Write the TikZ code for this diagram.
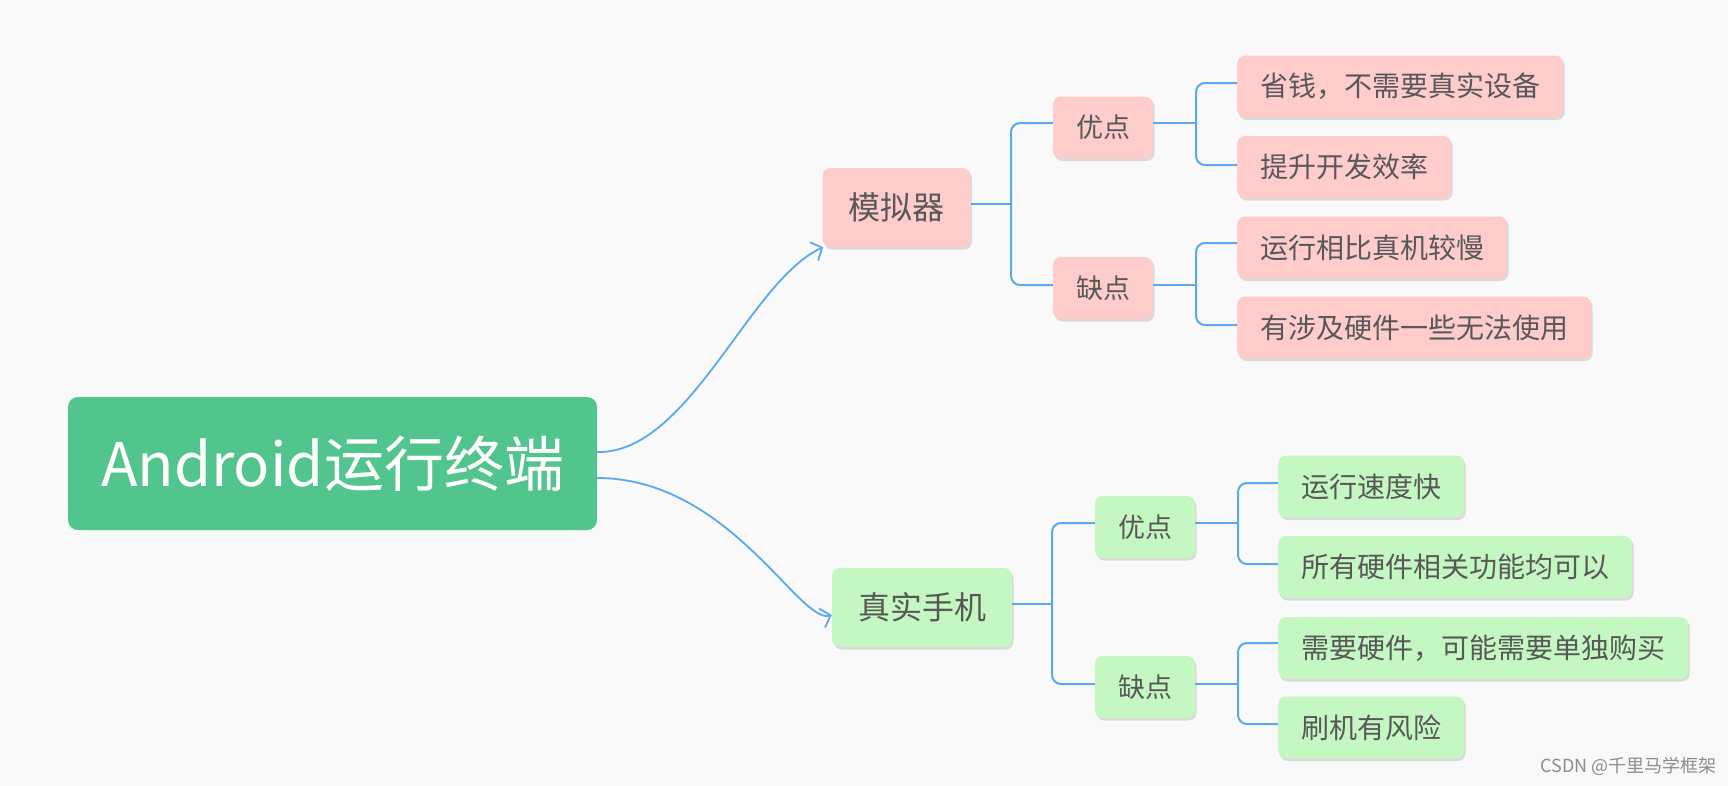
\documentclass[tikz,border=0pt]{standalone}
\usepackage{fontspec}
\setmainfont{Noto Sans CJK SC}
\usetikzlibrary{arrows.meta,shadows}
\definecolor{bgc}{HTML}{F9F9F9}
\definecolor{rootg}{HTML}{52C48E}
\definecolor{pinkc}{HTML}{FFCCCC}
\definecolor{greenc}{HTML}{C4F7C2}
\definecolor{txtc}{HTML}{585858}
\definecolor{linec}{HTML}{5AA9EE}
\tikzset{
  box/.style={rounded corners=8pt, text=txtc, inner ysep=0pt, minimum height=62pt,
    drop shadow={shadow xshift=1.5pt, shadow yshift=-2.5pt, opacity=0.12, fill=black}},
  pinkbox/.style={box, fill=pinkc},
  greenbox/.style={box, fill=greenc},
  leaf/.style={anchor=west, inner xsep=23pt, font=\fontsize{28}{34}\selectfont},
  mid/.style={minimum width=100pt, font=\fontsize{27}{32}\selectfont},
  big/.style={minimum width=148pt, minimum height=79pt, font=\fontsize{32}{38}\selectfont},
  conn/.style={draw=linec, line width=2pt, rounded corners=9pt},
  curv/.style={draw=linec, line width=1.8pt, -{Straight Barb[length=9pt,width=20pt,line width=1.8pt]}},
}
\begin{document}
\begin{tikzpicture}[x=1pt,y=-1pt]
\useasboundingbox[fill=bgc] (0,0) rectangle (1728,785);
% root
\node[rounded corners=10pt, fill=rootg, text=white, minimum width=529pt, minimum height=133pt,
  font=\fontsize{60}{66}\selectfont] (root) at (332.5,463.5) {Android运行终端};
% emulator branch
\node[pinkbox, big] (mnq) at (896.5,207.5) {模拟器};
\node[pinkbox, mid] (yd1) at (1103,127.5) {优点};
\node[pinkbox, mid] (qd1) at (1103,288) {缺点};
\node[pinkbox, leaf] (l1) at (1237,86.5) {省钱，不需要真实设备};
\node[pinkbox, leaf] (l2) at (1237,167) {提升开发效率};
\node[pinkbox, leaf] (l3) at (1237,247.5) {运行相比真机较慢};
\node[pinkbox, leaf] (l4) at (1237,327.5) {有涉及硬件一些无法使用};
% real phone branch
\node[greenbox, big, minimum width=180pt] (zs) at (922,607.5) {真实手机};
\node[greenbox, mid] (yd2) at (1145,527) {优点};
\node[greenbox, mid] (qd2) at (1145,687) {缺点};
\node[greenbox, leaf] (m1) at (1278,486.5) {运行速度快};
\node[greenbox, leaf] (m2) at (1278,567) {所有硬件相关功能均可以};
\node[greenbox, leaf] (m3) at (1278,648) {需要硬件，可能需要单独购买};
\node[greenbox, leaf] (m4) at (1278,727.5) {刷机有风险};
% junction coordinates
\coordinate (j1) at (1011,204);
\coordinate (j2) at (1196,123);
\coordinate (j3) at (1196,285);
\coordinate (k1) at (1052,604);
\coordinate (k2) at (1238,523);
\coordinate (k3) at (1238,684);
% connectors
\draw[conn] (mnq.east |- j1) -- (j1);
\draw[conn] (j1) |- (yd1.west |- j2);
\draw[conn] (j1) |- (qd1.west |- j3);
\draw[conn] (yd1.east |- j2) -- (j2);
\draw[conn] (j2) |- (l1.west |- 0,83);
\draw[conn] (j2) |- (l2.west |- 0,165);
\draw[conn] (qd1.east |- j3) -- (j3);
\draw[conn] (j3) |- (l3.west |- 0,243);
\draw[conn] (j3) |- (l4.west |- 0,325);
\draw[conn] (zs.east |- k1) -- (k1);
\draw[conn] (k1) |- (yd2.west |- k2);
\draw[conn] (k1) |- (qd2.west |- k3);
\draw[conn] (yd2.east |- k2) -- (k2);
\draw[conn] (k2) |- (m1.west |- 0,483);
\draw[conn] (k2) |- (m2.west |- 0,564);
\draw[conn] (qd2.east |- k3) -- (k3);
\draw[conn] (k3) |- (m3.west |- 0,643);
\draw[conn] (k3) |- (m4.west |- 0,724);
% curved arrows from root
\draw[curv] ([yshift=11.5pt]root.east) .. controls +(92,2) and +(-74,33) .. ([xshift=1pt]mnq.south west);
\draw[curv] ([yshift=-14.5pt]root.east) .. controls +(132,0) and +(-32,10) .. ([yshift=-7.5pt]zs.west);
% watermark
\node[anchor=east, text=black!45, font=\fontsize{18}{20}\selectfont] (wm) at (1720,766) {CSDN @千里马学框架};
\end{tikzpicture}
\end{document}
